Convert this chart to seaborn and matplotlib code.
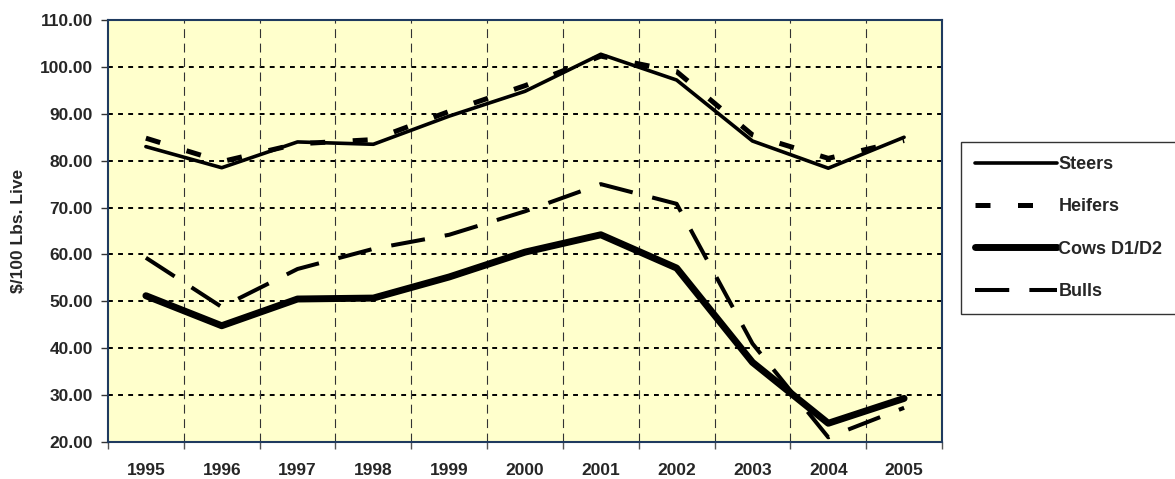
import matplotlib
matplotlib.use("Agg")
import matplotlib.pyplot as plt
import pandas as pd
import seaborn as sns

years = ["1995", "1996", "1997", "1998", "1999", "2000",
         "2001", "2002", "2003", "2004", "2005"]
steers = [83.0, 78.5, 84.0, 83.5, 89.5, 94.8, 102.7, 97.2, 84.2, 78.4, 85.0]
heifers = [84.8, 79.8, 83.6, 84.5, 90.5, 96.0, 102.3, 99.0, 85.5, 80.5, 84.3]
cows = [51.2, 44.8, 50.5, 50.7, 55.2, 60.5, 64.2, 57.1, 37.0, 24.0, 29.3]
bulls = [59.3, 48.8, 56.9, 61.2, 64.2, 69.2, 75.0, 70.8, 41.0, 21.0, 27.3]
y_ticks = [20, 30, 40, 50, 60, 70, 80, 90, 100, 110]

series = {
    "Steers": steers,
    "Heifers": heifers,
    "Cows D1/D2": cows,
    "Bulls": bulls,
}
df = pd.DataFrame(
    [(i, name, v) for name, vals in series.items() for i, v in enumerate(vals)],
    columns=["pos", "series", "price"],
)

sns.set_theme(style="white")
plt.rcParams["font.family"] = ["Liberation Sans", "DejaVu Sans"]
plt.rcParams["font.weight"] = "bold"
FS = 12.5

fig = plt.figure(figsize=(11.75, 4.79), dpi=100)
ax = fig.add_axes([0.0919, 0.0772, 0.7098, 0.8810])
ax.set_facecolor("#FFFFCC")

styles = {
    "Steers": dict(lw=2.6, dashes=None),
    "Heifers": dict(lw=3.6, dashes=(3.0, 5.5)),
    "Cows D1/D2": dict(lw=5.0, dashes=None),
    "Bulls": dict(lw=2.9, dashes=(8.5, 5.0)),
}

# gridlines first, under the data
for v in y_ticks[1:-1]:
    ax.axhline(v, color="black", lw=1.4, dashes=(2.5, 2.7), zorder=1)
for b in range(1, len(years)):
    ax.axvline(b - 0.5, color="#333333", lw=0.8, dashes=(8, 5), zorder=1)

handles = []
for name in series:
    sub = df[df["series"] == name]
    sns.lineplot(data=sub, x="pos", y="price", ax=ax, color="black",
                 lw=styles[name]["lw"], zorder=3, legend=False)
    line = ax.lines[-1]
    if styles[name]["dashes"]:
        line.set_dashes(styles[name]["dashes"])
    line.set_solid_capstyle("round")
    line.set_label(name)
    handles.append(line)

ax.set_xlim(-0.5, len(years) - 0.5)
ax.set_ylim(20, 110)
ax.set_yticks(y_ticks)
ax.set_yticklabels([f"{v:.2f}" for v in y_ticks], fontsize=FS, fontweight="bold")

# tick marks on category boundaries, labels on category centres
ax.set_xticks([b - 0.5 for b in range(len(years) + 1)])
ax.set_xticklabels([])
ax.set_xticks(range(len(years)), minor=True)
ax.set_xticklabels(years, minor=True, fontsize=FS, fontweight="bold")
ax.tick_params(axis="x", which="major", length=5, width=1, color="#555555",
               direction="out", bottom=True)
ax.tick_params(axis="x", which="minor", length=0, pad=15)
ax.tick_params(axis="y", length=5, width=1, color="#333333", direction="out",
               left=True, pad=6)

ax.set_xlabel("")
ax.set_ylabel("$/100 Lbs. Live", fontsize=FS, fontweight="bold", labelpad=10)

for s in ax.spines.values():
    s.set_color("#1F3A5F")
    s.set_linewidth(1.5)
    s.set_visible(True)

leg = fig.legend(handles=handles, loc="center left",
                 bbox_to_anchor=(961 / 1175, 1 - 228 / 479),
                 frameon=True, fancybox=False,
                 handlelength=4.5, handletextpad=0.1, labelspacing=1.4,
                 borderpad=0.8, borderaxespad=0,
                 prop={"weight": "bold", "size": 13})
leg.get_frame().set_edgecolor("black")
leg.get_frame().set_linewidth(1.0)

fig.savefig("out.png", dpi=100)
plt.close(fig)
